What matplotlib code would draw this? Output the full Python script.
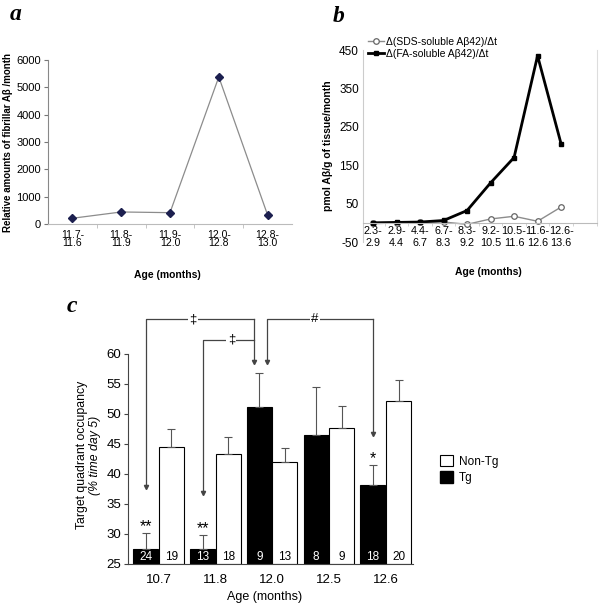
import numpy as np
import matplotlib
matplotlib.use("Agg")
import matplotlib.pyplot as plt
from matplotlib.patches import Patch

plt.rcParams["font.family"] = ["Liberation Sans", "DejaVu Sans"]
plt.rcParams["axes.unicode_minus"] = False

# ---- panel a: fibrillar Abeta rate
a_labels = ["11.7-\n11.6", "11.8-\n11.9", "11.9-\n12.0", "12.0-\n12.8", "12.8-\n13.0"]
a_values = [210, 440, 415, 5380, 330]

# ---- panel b: soluble Abeta42 rates
b_labels = ["2.3-\n2.9", "2.9-\n4.4", "4.4-\n6.7", "6.7-\n8.3", "8.3-\n9.2",
            "9.2-\n10.5", "10.5-\n11.6", "11.6-\n12.6", "12.6-\n13.6"]
b_sds = [0, 0, 1, 2, -4, 10, 17, 4, 41]
b_fa = [0, 1, 2, 6, 32, 104, 170, 435, 206]

# ---- panel c: target quadrant occupancy
c_ages = ["10.7", "11.8", "12.0", "12.5", "12.6"]
c_tg = [27.5, 27.5, 51.1, 46.5, 38.2]
c_tg_err = [2.6, 2.4, 5.7, 8.0, 3.3]
c_nontg = [44.5, 43.4, 42.0, 47.7, 52.2]
c_nontg_err = [3.0, 2.8, 2.4, 3.6, 3.5]
c_tg_n = [24, 13, 9, 8, 18]
c_nontg_n = [19, 18, 13, 9, 20]
c_tg_stars = ["**", "**", "", "", "*"]

W, H = 600, 607


def px_rect(l, t, r, b):
    """Axes rect from pixel edges (top-left origin)."""
    return [l / W, 1 - b / H, (r - l) / W, (b - t) / H]


fig = plt.figure(figsize=(6, 6.07), dpi=100)

# ================= panel a
ax = fig.add_axes(px_rect(48, 60, 292, 224))
xa = np.arange(len(a_values))
ax.plot(xa, a_values, color="#8c8c8c", lw=0.9, marker="D", ms=3.8,
        mfc="#1c1f4f", mec="#1c1f4f")
ax.set_xlim(-0.5, len(a_values) - 0.5)
ax.set_ylim(0, 6000)
ax.set_yticks(np.arange(0, 6001, 1000))
ax.set_xticks(xa)
ax.set_xticklabels(a_labels, fontsize=7.5, linespacing=0.85)
ax.set_xticks(xa[:-1] + 0.5, minor=True)
ax.tick_params(axis="x", which="major", length=0, pad=4)
ax.tick_params(axis="x", which="minor", length=3, color="#bbbbbb")
ax.tick_params(axis="y", labelsize=8, length=3, color="#777777", pad=2)
for s in ["top", "right"]:
    ax.spines[s].set_visible(False)
ax.spines["left"].set_color("#888888")
ax.spines["bottom"].set_color("#bbbbbb")
ax.set_ylabel("Relative amounts of fibrillar A\u03b2 /month", fontsize=7,
              fontweight="bold")
ax.yaxis.set_label_coords(-0.145, 0.5)
ax.set_xlabel("Age (months)", fontsize=7.5, fontweight="bold")
ax.xaxis.set_label_coords(0.49, -0.28)

# ================= panel b
ax = fig.add_axes(px_rect(363, 50, 597, 242))
ax.spines["bottom"].set_position(("data", 0))
xb = np.arange(len(b_fa))
ax.plot(xb, b_sds, color="#8c8c8c", lw=1.0, marker="o", ms=4,
        mfc="white", mec="#666666", mew=0.9,
        label="\u0394(SDS-soluble A\u03b242)/\u0394t")
ax.plot(xb, b_fa, color="black", lw=2.0, marker="s", ms=3.5,
        mfc="black", mec="black",
        label="\u0394(FA-soluble A\u03b242)/\u0394t")
ax.set_xlim(-0.43, 9.53)
ax.set_ylim(-50, 450)
ax.set_yticks(np.arange(-50, 451, 100))
ax.set_xticks(xb)
ax.set_xticklabels(b_labels, fontsize=7.8, linespacing=1.25)
ax.set_xticks(np.append(xb + 0.5, 9.53), minor=True)
ax.tick_params(axis="x", which="major", length=0, pad=2)
ax.tick_params(axis="x", which="minor", length=2.5, color="#cccccc")
ax.tick_params(axis="y", labelsize=8.5, length=0, pad=3)
ax.spines["top"].set_visible(False)
ax.spines["bottom"].set_color("#bbbbbb")
ax.spines["left"].set_color("#cccccc")
ax.spines["right"].set_color("#dddddd")
ax.spines["right"].set_bounds(0, 450)
ax.set_ylabel("pmol A\u03b2/g of tissue/month", fontsize=7.5, fontweight="bold")
ax.yaxis.set_label_coords(-0.128, 0.5)
ax.set_xlabel("Age (months)", fontsize=7.5, fontweight="bold")
ax.xaxis.set_label_coords(0.534, -0.128)
ax.legend(loc="upper left", bbox_to_anchor=(368 / W, 1 - 37 / H),
          bbox_transform=fig.transFigure, fontsize=7.5, frameon=False,
          handlelength=1.5, handletextpad=0.2, labelspacing=0.15,
          borderpad=0, borderaxespad=0)

# ================= panel c
ax = fig.add_axes(px_rect(128, 354, 413, 564))
xc = np.arange(len(c_ages))
off, bw = 0.225, 0.44
x_tg = xc - off
x_non = xc + off
ax.bar(x_tg, np.array(c_tg) - 25, bw, bottom=25, color="black",
       edgecolor="black", lw=0.8, zorder=2)
ax.bar(x_non, np.array(c_nontg) - 25, bw, bottom=25, color="white",
       edgecolor="black", lw=0.8, zorder=2)
zero = np.zeros(len(c_ages))
ax.errorbar(x_tg, c_tg, yerr=[zero, c_tg_err], fmt="none", ecolor="#555555",
            elinewidth=0.8, capsize=3, capthick=0.8, zorder=3)
ax.errorbar(x_non, c_nontg, yerr=[zero, c_nontg_err], fmt="none",
            ecolor="#555555", elinewidth=0.8, capsize=3, capthick=0.8, zorder=3)
for i in range(len(c_ages)):
    ax.text(x_tg[i], 26.2, str(c_tg_n[i]), color="white", ha="center",
            va="center", fontsize=8.5, zorder=4)
    ax.text(x_non[i], 26.2, str(c_nontg_n[i]), color="black", ha="center",
            va="center", fontsize=8.5, zorder=4)
    if c_tg_stars[i]:
        ax.text(x_tg[i], c_tg[i] + c_tg_err[i] - 0.2, c_tg_stars[i],
                ha="center", va="bottom", fontsize=11.5)

ax.set_xlim(-0.54, 4.48)
ax.set_ylim(25, 60)
ax.set_yticks(np.arange(25, 61, 5))
ax.set_xticks(xc)
ax.set_xticklabels(c_ages)
ax.tick_params(axis="x", length=0, labelsize=9.5, pad=7)
ax.tick_params(axis="y", length=3, labelsize=9.5, pad=2, color="#444444")
for s in ["top", "right"]:
    ax.spines[s].set_visible(False)
ax.spines["left"].set_color("#444444")
ax.spines["bottom"].set_color("#444444")

# significance brackets
LC = "#444444"


def bracket(x0, x1, y_top, tip0, tip1, sym, sym_x):
    ax.plot([x0, x0, x1], [tip0, y_top, y_top], color=LC, lw=0.9,
            clip_on=False, zorder=1)
    ax.plot([x0], [tip0], marker="v", ms=3, color=LC, clip_on=False)
    if tip1 is not None:
        ax.plot([x1, x1], [y_top, tip1], color=LC, lw=0.9, clip_on=False)
        ax.plot([x1], [tip1], marker="v", ms=3, color=LC, clip_on=False)
    ax.text(sym_x, y_top, sym, ha="center", va="center", fontsize=9.5,
            bbox=dict(facecolor="white", edgecolor="none", pad=1.0),
            clip_on=False, zorder=5)


bracket(x_tg[0], x_tg[2] - 0.1, 65.8, 37.9, 58.7, "\u2021", 0.6)
bracket(x_tg[1], x_tg[2] - 0.1, 62.4, 36.8, None, "\u2021", 1.28)
bracket(x_tg[2] + 0.135, x_tg[4], 65.8, 58.7, 46.7, "#", 2.75)

ax.legend(handles=[Patch(facecolor="white", edgecolor="black", lw=0.8, label="Non-Tg"),
                   Patch(facecolor="black", edgecolor="black", label="Tg")],
          loc="upper left", bbox_to_anchor=(440 / W, 1 - 455 / H),
          bbox_transform=fig.transFigure, frameon=False, fontsize=8.5,
          handlelength=1.1, handleheight=1.1, labelspacing=0.3,
          handletextpad=0.5, borderpad=0, borderaxespad=0)

fig.text(82 / W, 1 - 455 / H, "Target quadrant occupancy", rotation=90,
         ha="center", va="center", fontsize=8.8)
fig.text(95 / W, 1 - 455 / H, "(% time day 5)", rotation=90, ha="center",
         va="center", fontsize=8.8, style="italic")
fig.text(265 / W, 1 - 597 / H, "Age (months)", ha="center", va="center",
         fontsize=9)

# panel letters
for lx, ly, letter in [(10, 20, "a"), (333, 22, "b"), (67, 312, "c")]:
    fig.text(lx / W, 1 - ly / H, letter, family="Liberation Serif",
             fontweight="bold", style="italic", fontsize=17, va="baseline")

fig.savefig("out.png", dpi=100)
